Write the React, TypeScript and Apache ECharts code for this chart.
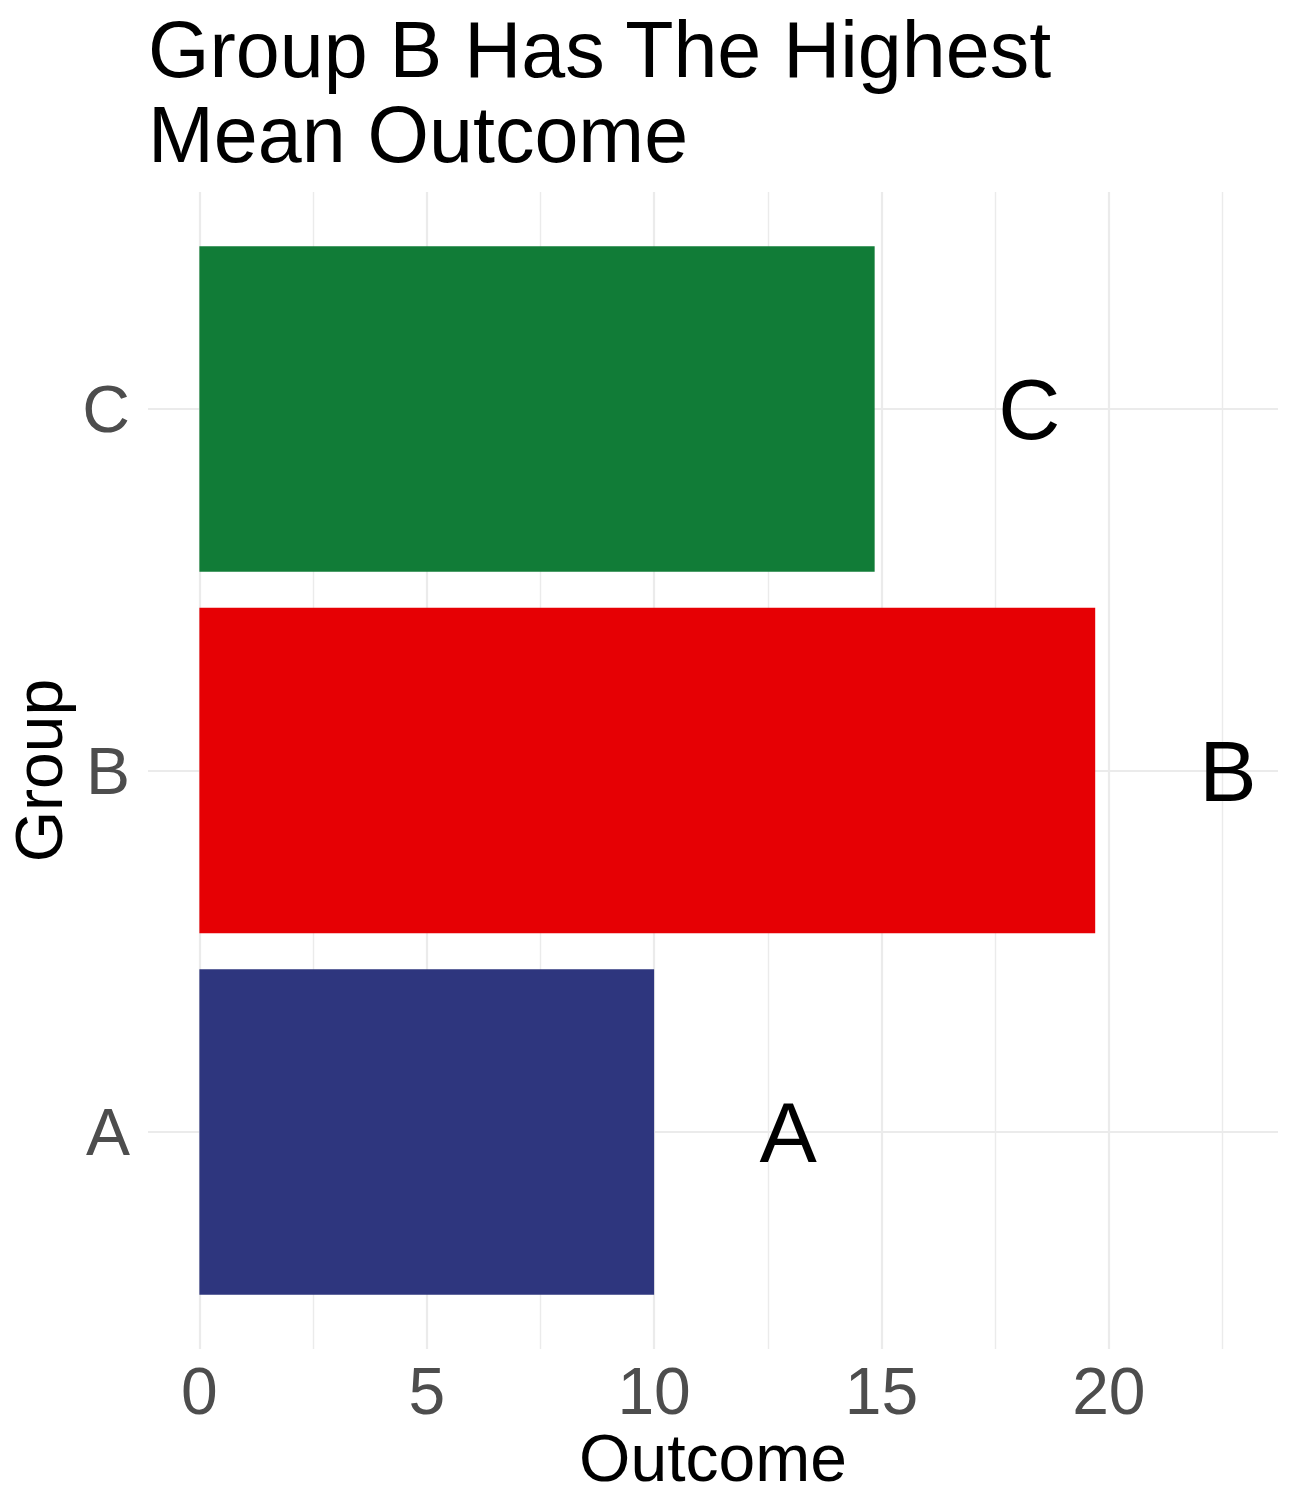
import React, { useEffect, useRef } from "react";
import * as echarts from "echarts";

const categories = ["A", "B", "C"];
const outcomeValues = [10, 19.7, 14.85];
const labelPositions = [12.95, 22.62, 18.25];
const barColors = ["#2E367E", "#E60004", "#117C37"];
const xMajorTicks = [0, 5, 10, 15, 20];
const xMinorTicks = [2.5, 7.5, 12.5, 17.5, 22.5];
const yTicks = [1, 2, 3];
const titleText = "Group B Has The Highest\nMean Outcome";

const FONT = "'Liberation Sans', Arial, Helvetica, sans-serif";
const X_MIN = -1.13;
const X_MAX = 23.72;
const BAR_WIDTH = 0.9;

export default function App() {
  const ref = useRef<HTMLDivElement>(null);
  useEffect(() => {
    if (!ref.current) return;
    const chart = echarts.init(ref.current, undefined, { renderer: "svg" });
    const barData = categories.map((c, i) => [outcomeValues[i], i + 1]);
    const labelData = categories.map((c, i) => [labelPositions[i], i + 1]);
    chart.setOption({
      animation: false,
      backgroundColor: "#FFFFFF",
      title: {
        text: titleText,
        left: 148,
        top: 7,
        padding: 0,
        textStyle: {
          fontFamily: FONT,
          fontSize: 79,
          lineHeight: 85,
          fontWeight: "normal",
          color: "#000000",
        },
      },
      grid: { left: 148, right: 18, top: 192, bottom: 163, containLabel: false },
      xAxis: [
        {
          type: "value",
          min: X_MIN,
          max: X_MAX,
          axisLine: { show: false },
          axisTick: { show: false, customValues: xMajorTicks },
          axisLabel: {
            customValues: xMajorTicks,
            margin: 9,
            fontFamily: FONT,
            fontSize: 66,
            lineHeight: 66,
            color: "#4D4D4D",
          },
          splitLine: { show: true, lineStyle: { color: "#EBEBEB", width: 2.2 } },
        },
        {
          type: "value",
          min: X_MIN,
          max: X_MAX,
          position: "bottom",
          axisLine: { show: false },
          axisTick: { show: false, customValues: xMinorTicks },
          axisLabel: { show: false, customValues: xMinorTicks },
          splitLine: { show: true, lineStyle: { color: "#EBEBEB", width: 1.4 } },
        },
      ],
      yAxis: {
        type: "value",
        min: 0.4,
        max: 3.6,
        axisLine: { show: false },
        axisTick: { show: false, customValues: yTicks },
        axisLabel: {
          customValues: yTicks,
          margin: 18,
          fontFamily: FONT,
          fontSize: 66,
          lineHeight: 66,
          color: "#4D4D4D",
          formatter: (v: number) => categories[Math.round(v) - 1] ?? "",
        },
        splitLine: { show: true, lineStyle: { color: "#EBEBEB", width: 2.2 } },
      },
      graphic: [
        {
          type: "text",
          x: 39,
          y: 770.5,
          rotation: Math.PI / 2,
          style: {
            text: "Group",
            fontFamily: FONT,
            fontSize: 66,
            fill: "#000000",
            align: "center",
            verticalAlign: "middle",
          },
        },
        {
          type: "text",
          x: 713,
          y: 1458,
          style: {
            text: "Outcome",
            fontFamily: FONT,
            fontSize: 66,
            fill: "#000000",
            align: "center",
            verticalAlign: "middle",
          },
        },
      ],
      series: [
        {
          type: "custom",
          xAxisIndex: 0,
          yAxisIndex: 0,
          data: barData,
          renderItem: (params: any, api: any) => {
            const v = api.value(0);
            const y = api.value(1);
            const start = api.coord([0, y]);
            const end = api.coord([v, y]);
            const h = api.size([0, BAR_WIDTH])[1];
            return {
              type: "rect",
              shape: { x: start[0], y: start[1] - h / 2, width: end[0] - start[0], height: h },
              style: { fill: barColors[params.dataIndex] },
            };
          },
        },
        {
          type: "custom",
          xAxisIndex: 0,
          yAxisIndex: 0,
          data: labelData,
          renderItem: (params: any, api: any) => {
            const pt = api.coord([api.value(0), api.value(1)]);
            return {
              type: "text",
              x: pt[0],
              y: pt[1],
              style: {
                text: categories[params.dataIndex],
                fontFamily: FONT,
                fontSize: 86,
                fill: "#000000",
                align: "center",
                verticalAlign: "middle",
              },
            };
          },
        },
      ],
    });
    return () => chart.dispose();
  }, []);
  return (
    <div
      ref={ref}
      style={{ position: "absolute", left: 0, top: 0, width: 1296, height: 1512 }}
    />
  );
}
